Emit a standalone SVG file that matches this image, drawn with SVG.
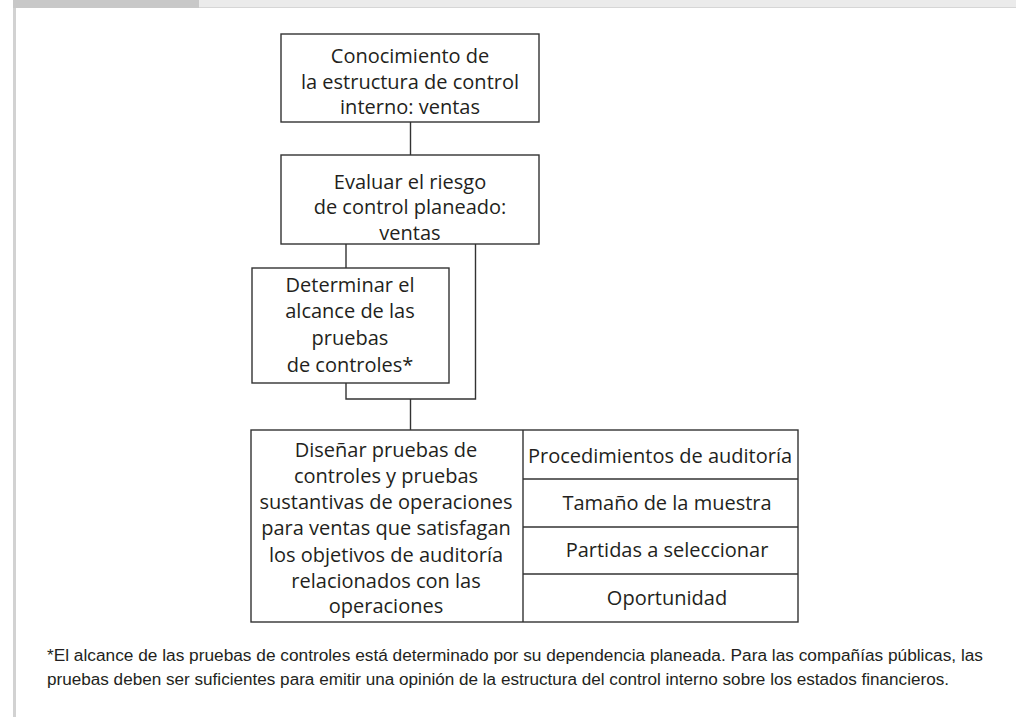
<svg xmlns="http://www.w3.org/2000/svg" width="1016" height="717" viewBox="0 0 1016 717">
<style>
.box{fill:#fff;stroke:#333;stroke-width:1.4}
.ln{fill:none;stroke:#333;stroke-width:1.4}
.t{font-family:"Open Sans","Noto Sans","Liberation Sans",sans-serif;font-size:20px;fill:#231f20;text-anchor:middle}
.fn{font-family:"Liberation Sans",Arial,sans-serif;font-size:16px;fill:#231f20}
</style>
<rect x="0" y="0" width="1016" height="717" fill="#fff"/>
<g id="frame">
<rect x="199" y="0" width="817" height="7" fill="#ebebeb"/>
<line x1="199" y1="7.5" x2="1016" y2="7.5" stroke="#d6d6d6" stroke-width="1"/>
<rect x="13" y="0" width="186" height="8" fill="#c8c8c8"/>
<rect x="13" y="8" width="3" height="709" fill="#d2d2d2"/>
</g>
<g id="connectors">
<line class="ln" x1="410.5" y1="122" x2="410.5" y2="155"/>
<line class="ln" x1="346" y1="244" x2="346" y2="268"/>
<polyline class="ln" points="475.5,244 475.5,399 346,399 346,383"/>
<line class="ln" x1="410.5" y1="399" x2="410.5" y2="430"/>
</g>
<g id="node1">
<rect class="box" x="281" y="34" width="258" height="88"/>
<text class="t" x="410" y="63">Conocimiento de</text>
<text class="t" x="410" y="88.5">la estructura de control</text>
<text class="t" x="410" y="114">interno: ventas</text>
</g>
<g id="node2">
<rect class="box" x="281" y="155" width="258" height="89"/>
<text class="t" x="410" y="188.5">Evaluar el riesgo</text>
<text class="t" x="410" y="214">de control planeado:</text>
<text class="t" x="410" y="240">ventas</text>
</g>
<g id="node3">
<rect class="box" x="252" y="268" width="197" height="115"/>
<text class="t" x="350" y="291.5">Determinar el</text>
<text class="t" x="350" y="318">alcance de las</text>
<text class="t" x="350" y="344.5">pruebas</text>
<text class="t" x="350" y="371.5">de controles*</text>
</g>
<g id="node4">
<rect class="box" x="251" y="430" width="547" height="192"/>
<line class="ln" x1="523" y1="430" x2="523" y2="622"/>
<line class="ln" x1="523" y1="479" x2="798" y2="479"/>
<line class="ln" x1="523" y1="527" x2="798" y2="527"/>
<line class="ln" x1="523" y1="574" x2="798" y2="574"/>
<text class="t" x="386" y="457">Diseñar pruebas de</text>
<text class="t" x="386" y="483">controles y pruebas</text>
<text class="t" x="386" y="509">sustantivas de operaciones</text>
<text class="t" x="386" y="535">para ventas que satisfagan</text>
<text class="t" x="386" y="561.5">los objetivos de auditoría</text>
<text class="t" x="386" y="587.5">relacionados con las</text>
<text class="t" x="386" y="613">operaciones</text>
<text class="t" x="660" y="463">Procedimientos de auditoría</text>
<text class="t" x="667" y="509.5">Tamaño de la muestra</text>
<text class="t" x="667" y="557">Partidas a seleccionar</text>
<text class="t" x="667" y="605">Oportunidad</text>
</g>
<g id="footnote">
<text class="fn" x="47" y="661" textLength="936" lengthAdjust="spacingAndGlyphs">*El alcance de las pruebas de controles está determinado por su dependencia planeada. Para las compañías públicas, las</text>
<text class="fn" x="47" y="685" textLength="902" lengthAdjust="spacingAndGlyphs">pruebas deben ser suficientes para emitir una opinión de la estructura del control interno sobre los estados financieros.</text>
</g>
</svg>
